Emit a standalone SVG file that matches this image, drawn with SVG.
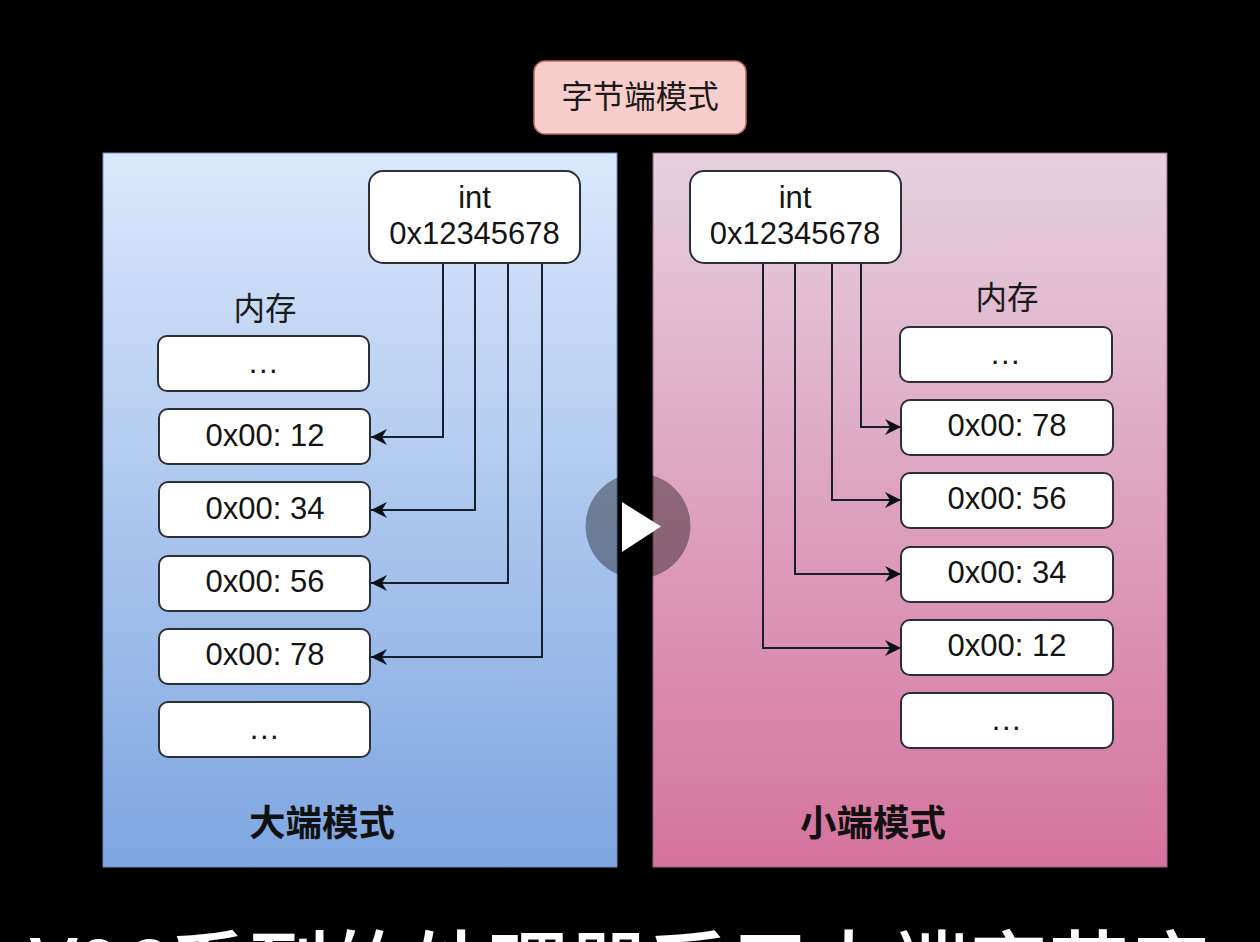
<svg xmlns="http://www.w3.org/2000/svg" width="1260" height="942" viewBox="0 0 1260 942">
<style>
.t{font-family:"Liberation Sans","Noto Sans CJK SC",sans-serif;font-size:31px;fill:#141414;text-anchor:middle}
.d{letter-spacing:1.500px}
.c{font-family:"Noto Sans CJK SC",sans-serif;font-size:31.500px;fill:#1a1a1a;text-anchor:middle}
.b{font-family:"Noto Sans CJK SC",sans-serif;font-size:36.500px;font-weight:700;fill:#111;text-anchor:middle}
.box{fill:#fff;stroke:#2b3038;stroke-width:2}
.wire{fill:none;stroke:#16202c;stroke-width:2}
</style>
<defs>
<linearGradient id="gl" x1="0" y1="0" x2="0" y2="1"><stop offset="0" stop-color="#dae8fc"/><stop offset="1" stop-color="#7ea6e0"/></linearGradient>
<linearGradient id="gr" x1="0" y1="0" x2="0" y2="1"><stop offset="0" stop-color="#e6d0de"/><stop offset="1" stop-color="#d5739d"/></linearGradient>
<marker id="a" markerUnits="userSpaceOnUse" markerWidth="18" markerHeight="18" refX="16" refY="8" orient="auto"><path d="M0 0L16 8L0 16L5 8Z" fill="#0c1118"/></marker>
</defs>
<rect width="1260" height="942" fill="#000"/>
<g id="panel-big"><rect x="103" y="153" width="514" height="714" fill="url(#gl)" stroke="#6c8ebf" stroke-width="1"/><text class="b" x="322" y="836">大端模式</text></g>
<g id="panel-little"><rect x="653" y="153" width="514" height="714" fill="url(#gr)" stroke="#996185" stroke-width="1"/><text class="b" x="873" y="836">小端模式</text></g>
<g id="title"><rect x="534" y="61" width="212" height="73" rx="11" fill="#f8cecc" stroke="#c06a66" stroke-width="1.500"/><text class="c" x="640" y="108">字节端模式</text></g>
<g id="connectors">
<path class="wire" marker-end="url(#a)" d="M443 263V437H371"/>
<path class="wire" marker-end="url(#a)" d="M475 263V510H371"/>
<path class="wire" marker-end="url(#a)" d="M508 263V583H371"/>
<path class="wire" marker-end="url(#a)" d="M542 263V657H371"/>
<path class="wire" marker-end="url(#a)" d="M861 263V427H901"/>
<path class="wire" marker-end="url(#a)" d="M832 263V500H901"/>
<path class="wire" marker-end="url(#a)" d="M795 263V574H901"/>
<path class="wire" marker-end="url(#a)" d="M763 263V648H901"/>
</g>
<g id="int-big"><rect class="box" x="369" y="171" width="211" height="92" rx="14"/><text class="t" x="474.500" y="208">int</text><text class="t" x="474.500" y="244">0x12345678</text></g>
<g id="int-little"><rect class="box" x="690" y="171" width="211" height="92" rx="14"/><text class="t" x="795" y="208">int</text><text class="t" x="795" y="244">0x12345678</text></g>
<g id="mem-label-big"><text class="c" x="265" y="320">内存</text></g>
<g id="mem-label-little"><text class="c" x="1007" y="309">内存</text></g>
<g id="b0"><rect class="box" x="158" y="336" width="211" height="55" rx="9"/><text class="t d" x="264" y="373">...</text></g>
<g id="b1"><rect class="box" x="159" y="409" width="211" height="55" rx="9"/><text class="t" x="265" y="446">0x00: 12</text></g>
<g id="b2"><rect class="box" x="159" y="482" width="211" height="55" rx="9"/><text class="t" x="265" y="519">0x00: 34</text></g>
<g id="b3"><rect class="box" x="159" y="556" width="211" height="55" rx="9"/><text class="t" x="265" y="592">0x00: 56</text></g>
<g id="b4"><rect class="box" x="159" y="629" width="211" height="55" rx="9"/><text class="t" x="265" y="665">0x00: 78</text></g>
<g id="b5"><rect class="box" x="159" y="702" width="211" height="55" rx="9"/><text class="t d" x="265" y="739">...</text></g>
<g id="l0"><rect class="box" x="900" y="327" width="212" height="55" rx="9"/><text class="t d" x="1006" y="364">...</text></g>
<g id="l1"><rect class="box" x="901" y="400" width="212" height="55" rx="9"/><text class="t" x="1007" y="436">0x00: 78</text></g>
<g id="l2"><rect class="box" x="901" y="473" width="212" height="55" rx="9"/><text class="t" x="1007" y="509">0x00: 56</text></g>
<g id="l3"><rect class="box" x="901" y="547" width="212" height="55" rx="9"/><text class="t" x="1007" y="583">0x00: 34</text></g>
<g id="l4"><rect class="box" x="901" y="620" width="212" height="55" rx="9"/><text class="t" x="1007" y="656">0x00: 12</text></g>
<g id="l5"><rect class="box" x="901" y="693" width="212" height="55" rx="9"/><text class="t d" x="1007" y="730">...</text></g>
<g id="play"><circle cx="638" cy="526" r="52.500" fill="#000" fill-opacity="0.37"/><path d="M622 502L661 526.500L622 552Z" fill="#fff"/></g>
<text x="30" y="997" font-family="Noto Sans CJK SC,sans-serif" font-size="80" font-weight="500" fill="#fff">V96系列的处理器采用大端字节序</text>
</svg>
